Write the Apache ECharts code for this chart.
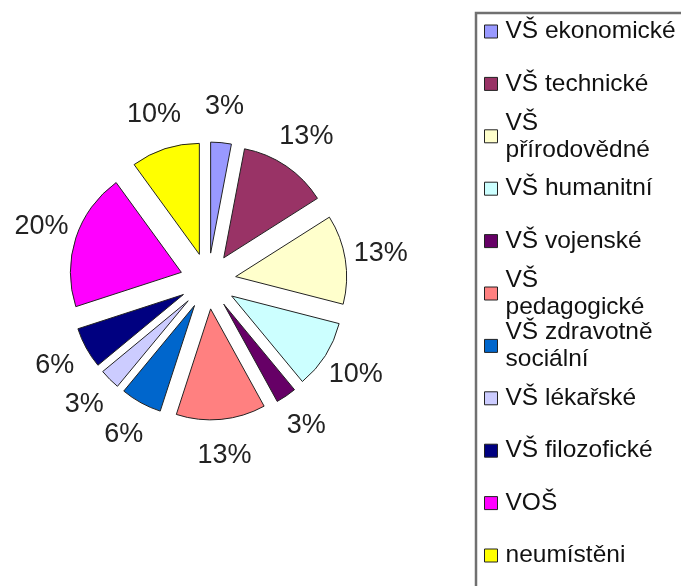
<!DOCTYPE html>
<html>
<head>
<meta charset="utf-8">
<script src="https://cdn.jsdelivr.net/npm/echarts@6/dist/echarts.min.js"></script>
<style>
html, body { margin: 0; padding: 0; background: #fff; }
#chart { width: 681px; height: 586px; }
</style>
</head>
<body>
<div id="chart"></div>
<script>
// kategorie a hodnoty (procenta)
var categories = ['VŠ ekonomické', 'VŠ technické', 'VŠ přírodovědné', 'VŠ humanitní', 'VŠ vojenské',
    'VŠ pedagogické', 'VŠ zdravotně sociální', 'VŠ lékařské', 'VŠ filozofické', 'VOŠ', 'neumístěni'];
var values = [3, 13, 13, 10, 3, 13, 6, 3, 6, 20, 10];
var legendLabels = ['VŠ ekonomické', 'VŠ technické', 'VŠ\npřírodovědné', 'VŠ humanitní', 'VŠ vojenské',
    'VŠ\npedagogické', 'VŠ zdravotně\nsociální', 'VŠ lékařské', 'VŠ filozofické', 'VOŠ', 'neumístěni'];
var colors = ['#9999FF', '#993366', '#FFFFCC', '#CCFFFF', '#660066', '#FF8080',
    '#0066CC', '#CCCCFF', '#000080', '#FF00FF', '#FFFF00'];

var myChart = echarts.init(document.getElementById('chart'));

var pieData = categories.map(function (name, i) {
    return { name: name, value: values[i], selected: true, itemStyle: { color: colors[i] } };
});
var labelData = categories.map(function (name, i) {
    return { name: name, value: values[i] };
});

// legenda - kazda polozka zvlast, aby sedely rozestupy
var legends = categories.map(function (name, i) {
    var yc = 31.5 + i * 52.4;
    var twoLine = legendLabels[i].indexOf('\n') >= 0;
    return {
        data: [name],
        orient: 'vertical',
        left: 484,
        top: yc - (twoLine ? 40.5 : 13.5),
        padding: 0,
        itemWidth: 13,
        itemHeight: 13,
        itemGap: 0,
        selectedMode: false,
        icon: 'rect',
        itemStyle: { borderColor: '#222', borderWidth: 1 },
        formatter: function () { return legendLabels[i]; },
        textStyle: {
            fontFamily: 'Liberation Sans',
            fontSize: 24.5,
            lineHeight: 27,
            color: '#111',
            padding: twoLine ? [27, 0, 0, 3] : [0, 0, 0, 3]
        }
    };
});

var option = {
    animation: false,
    color: colors,
    legend: legends,
    graphic: [{
        type: 'rect',
        shape: { x: 476, y: 13, width: 230, height: 600 },
        style: { fill: 'none', stroke: '#707070', lineWidth: 2.5 },
        silent: true
    }],
    series: [{
        type: 'pie',
        center: [208, 281],
        radius: 111,
        startAngle: 90,
        clockwise: true,
        selectedMode: 'multiple',
        selectedOffset: 28,
        avoidLabelOverlap: false,
        label: { show: false },
        labelLine: { show: false },
        itemStyle: { borderColor: '#222', borderWidth: 1 },
        select: { itemStyle: { borderColor: '#222', borderWidth: 1 } },
        emphasis: { scale: false },
        data: pieData
    }, {
        // popisky procent kolem vysunutych dilku
        type: 'pie',
        center: [208, 281],
        radius: [160, 184],
        startAngle: 90,
        clockwise: true,
        silent: true,
        legendHoverLink: false,
        avoidLabelOverlap: false,
        itemStyle: { color: 'rgba(0,0,0,0)', borderWidth: 0 },
        label: {
            show: true,
            position: 'inside',
            formatter: '{c}%',
            fontFamily: 'Liberation Sans',
            fontSize: 27,
            color: '#222'
        },
        labelLine: { show: false },
        emphasis: { disabled: true },
        data: labelData
    }]
};

myChart.setOption(option);
</script>
</body>
</html>
